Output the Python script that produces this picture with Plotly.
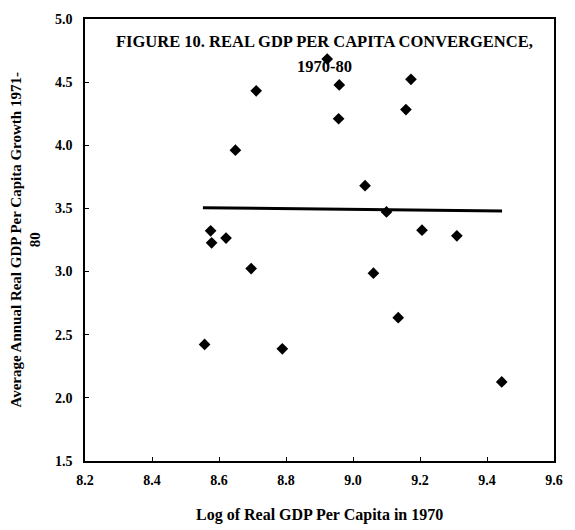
import plotly.graph_objects as go

# Data
log_gdp_1970 = [8.557, 8.575, 8.578, 8.621, 8.649, 8.696, 8.711, 8.789, 8.923, 8.959,
                8.957, 9.036, 9.100, 9.135, 9.158, 9.173, 9.206, 9.061, 9.310, 9.444]
growth_1971_80 = [2.423, 3.323, 3.228, 3.265, 3.961, 3.024, 4.431, 2.388, 4.683, 4.478,
                  4.210, 3.680, 3.472, 2.635, 4.283, 4.522, 3.328, 2.987, 3.283, 2.126]
trend_x = [8.552, 9.445]
trend_y = [3.506, 3.480]

x_ticks = [8.2, 8.4, 8.6, 8.8, 9.0, 9.2, 9.4, 9.6]
x_tick_labels = ["8.2", "8.4", "8.6", "8.8", "9.0", "9.2", "9.4", "9.6"]
y_ticks = [1.5, 2.0, 2.5, 3.0, 3.5, 4.0, 4.5, 5.0]
y_tick_labels = ["1.5", "2.0", "2.5", "3.0", "3.5", "4.0", "4.5", "5.0"]

title_line1 = "FIGURE 10. REAL GDP PER CAPITA CONVERGENCE,"
title_line2 = "1970-80"
x_title = "Log of Real GDP Per Capita in 1970"
y_title = "Average Annual Real GDP Per Capita Growth 1971-<br>80"

FONT = "Liberation Serif"

fig = go.Figure()
fig.add_trace(go.Scatter(
    x=trend_x, y=trend_y, mode="lines",
    line=dict(color="black", width=3), showlegend=False, hoverinfo="skip"))
fig.add_trace(go.Scatter(
    x=log_gdp_1970, y=growth_1971_80, mode="markers",
    marker=dict(symbol="diamond", size=9, color="black"),
    showlegend=False))

axis_common = dict(
    showline=True, linecolor="black", linewidth=1.5, mirror=True,
    ticks="inside", ticklen=4, tickcolor="black", showgrid=False, zeroline=False,
    tickfont=dict(family=FONT, size=14, color="black", weight="bold"),
)

fig.update_xaxes(range=[8.2, 9.6], tickvals=x_ticks, ticktext=x_tick_labels,
                 ticklabelstandoff=5, **axis_common)
fig.update_yaxes(range=[1.5, 5.0], tickvals=y_ticks, ticktext=y_tick_labels,
                 ticklabelstandoff=8, **axis_common)

ann_font = dict(family=FONT, size=16.5, color="black", weight="bold")
fig.update_layout(
    width=575, height=530,
    margin=dict(l=85, r=17, t=17, b=69),
    paper_bgcolor="white", plot_bgcolor="white",
    annotations=[
        dict(text=title_line1, xref="paper", yref="paper", x=0.51, y=1 - 23 / 444,
             xanchor="center", yanchor="middle", showarrow=False, font=ann_font),
        dict(text=title_line2, xref="paper", yref="paper", x=0.51, y=1 - 48 / 444,
             xanchor="center", yanchor="middle", showarrow=False, font=ann_font),
        dict(text=x_title, xref="paper", yref="paper", x=0.5, y=-54 / 444,
             xanchor="center", yanchor="middle", showarrow=False,
             font=dict(family=FONT, size=16, color="black", weight="bold")),
        dict(text=y_title, xref="paper", yref="paper", x=-60 / 473, y=0.5,
             xanchor="center", yanchor="middle", showarrow=False, textangle=-90,
             font=dict(family=FONT, size=15, color="black", weight="bold")),
    ],
)

fig.write_html("out.html")
